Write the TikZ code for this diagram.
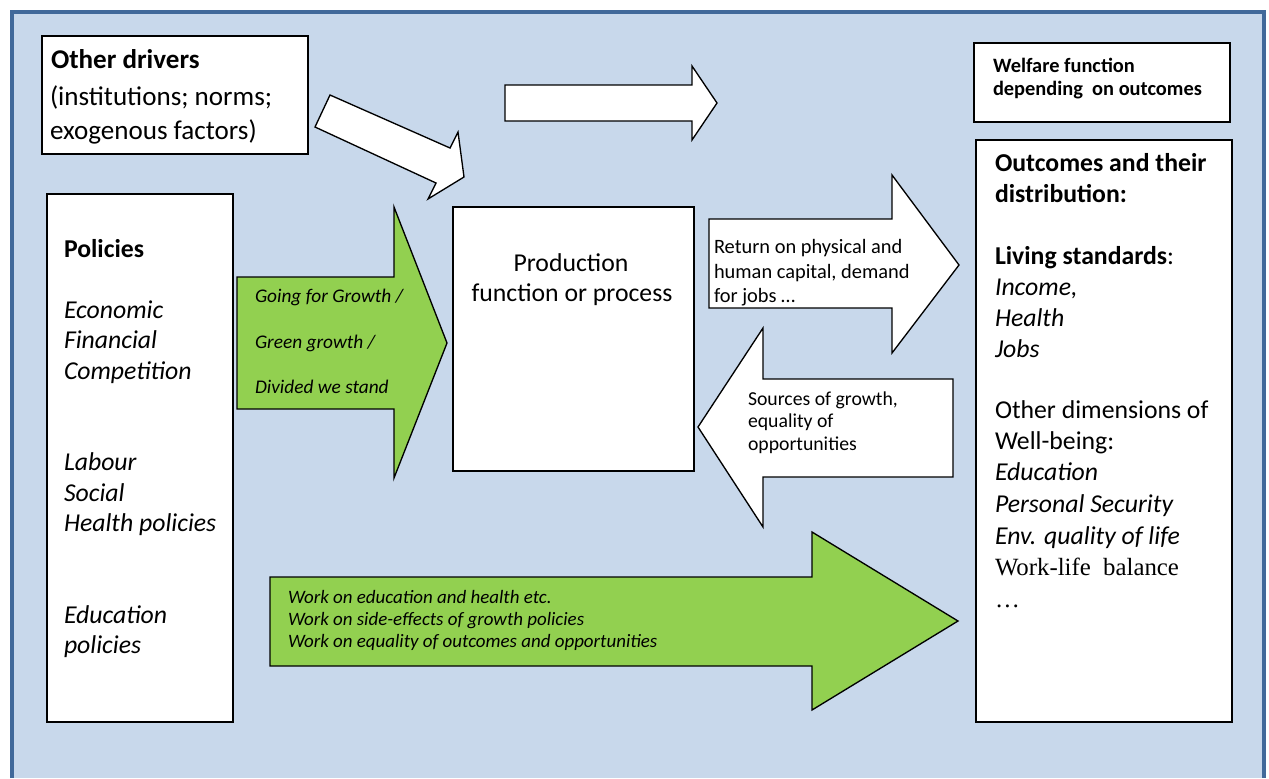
\documentclass[tikz,border=0pt]{standalone}
\usepackage{fontspec}
\setmainfont{Carlito}
\newfontfamily\tnrfont{Liberation Serif}
\definecolor{bgblue}{HTML}{C8D8EB}
\definecolor{frameblue}{HTML}{41699A}
\definecolor{arrgreen}{HTML}{92D050}
\begin{document}
\begin{tikzpicture}[x=0.75pt,y=-0.75pt,
  box/.style={draw=black,fill=white,line width=1pt},
  blockarrow/.style={draw=black,line width=1pt,line join=miter},
  ln/.style={anchor=base west,inner sep=0pt,outer sep=0pt},
  ctr/.style={anchor=base,inner sep=0pt,outer sep=0pt},
  fdrv/.style={font=\fontsize{20.3}{24}\selectfont},
  fdrvb/.style={font=\fontsize{20.3}{24}\selectfont\bfseries},
  fbig/.style={font=\fontsize{19.3}{23}\selectfont},
  fbigb/.style={font=\fontsize{19.3}{23}\selectfont\bfseries},
  fbigi/.style={font=\fontsize{19.3}{23}\selectfont\itshape},
  fwel/.style={font=\fontsize{15.3}{18}\selectfont\bfseries},
  fret/.style={font=\fontsize{15.3}{18}\selectfont},
  fsrc/.style={font=\fontsize{14.8}{18}\selectfont},
  fgrn/.style={font=\fontsize{14.5}{17}\selectfont\itshape},
  fwork/.style={font=\fontsize{14.2}{17}\selectfont\itshape}]
\useasboundingbox (0,0) rectangle (1269,778);
% background panel
\fill[bgblue] (11.5,12) rectangle (1263.5,778);
\draw[frameblue,line width=3pt] (11.5,778) -- (11.5,12) -- (1263.5,12) -- (1263.5,778);

% boxes
\draw[box] (42,36) rectangle (308,154);
\draw[box] (974,43) rectangle (1230,122);
\draw[box] (976,140) rectangle (1232,722);
\draw[box] (47,194) rectangle (233,722);
\draw[box] (453,207) rectangle (694,471);

% block arrows
\draw[blockarrow,fill=white] (505,85) -- (692,85) -- (692,66) -- (717,103) -- (692,140) -- (692,121) -- (505,121) -- cycle;
\draw[blockarrow,fill=white] (330,95) -- (450,148) -- (458,132) -- (464,177) -- (428,199) -- (436,183) -- (315,127) -- cycle;
\draw[blockarrow,fill=arrgreen] (237,277) -- (394,277) -- (394,207) -- (447,343) -- (394,478) -- (394,409) -- (237,409) -- cycle;
\draw[blockarrow,fill=arrgreen] (270,577) -- (812,577) -- (812,532) -- (958,621) -- (812,710) -- (812,666) -- (270,666) -- cycle;
\draw[blockarrow,fill=white] (709,219) -- (892,219) -- (892,175) -- (959,265) -- (892,353) -- (892,308) -- (709,308) -- cycle;
\draw[blockarrow,fill=white] (953,379) -- (763,379) -- (763,328) -- (698,427) -- (763,527) -- (763,477) -- (953,477) -- cycle;

% Other drivers
\node[ln,fdrvb] (od1) at (51,68) {Other drivers};
\node[ln,fdrv] (od2) at (50,105) {(institutions; norms;};
\node[ln,fdrv] (od3) at (50,139) {exogenous factors)};

% Welfare
\node[ln,fwel] (wf1) at (993,72) {Welfare function};
\node[ln,fwel] (wf2) at (993,95) {depending\ \ on outcomes};

% Outcomes
\node[ln,fbigb] (oc1) at (995,171) {Outcomes and their};
\node[ln,fbigb] (oc2) at (995,202) {distribution:};
\node[ln,fbig] (oc3) at (995,264) {{\bfseries Living standards}:};
\node[ln,fbigi] (oc4) at (995,295) {Income,};
\node[ln,fbigi] (oc5) at (995,326) {Health};
\node[ln,fbigi] (oc6) at (995,357) {Jobs};
\node[ln,fbig] (oc7) at (995,418) {Other dimensions of};
\node[ln,fbig] (oc8) at (995,449) {Well-being:};
\node[ln,fbigi] (oc9) at (995,480) {Education};
\node[ln,fbigi] (oc10) at (995,512) {Personal Security};
\node[ln,fbigi] (oc11) at (995,544) {Env. quality of life};
\node[ln,font=\fontsize{18.6}{22}\tnrfont] (oc12) at (995,575) {Work-life\ \ balance};
\node[ln,font=\fontsize{18.6}{22}\tnrfont] (oc13) at (995,607) {\dots};

% Policies
\node[ln,fbigb] (po1) at (64,257) {Policies};
\node[ln,fbigi] (po2) at (64,318) {Economic};
\node[ln,fbigi] (po3) at (64,348.5) {Financial};
\node[ln,fbigi] (po4) at (64,379) {Competition};
\node[ln,fbigi] (po5) at (64,470.5) {Labour};
\node[ln,fbigi] (po6) at (64,501) {Social};
\node[ln,fbigi] (po7) at (64,531.5) {Health policies};
\node[ln,fbigi] (po8) at (64,623) {Education};
\node[ln,fbigi] (po9) at (64,653.5) {policies};

% Production
\node[ctr,fbig] (pr1) at (571,271.5) {Production};
\node[ctr,fbig] (pr2) at (572,301.5) {function or process};

% Return arrow text
\node[ln,fret] (rt1) at (714,253) {Return on physical and};
\node[ln,fret] (rt2) at (714,278) {human capital, demand};
\node[ln,fret] (rt3) at (714,302) {for jobs \dots};

% Sources arrow text
\node[ln,fsrc] (so1) at (748,405) {Sources of growth,};
\node[ln,fsrc] (so2) at (748,427.5) {equality of};
\node[ln,fsrc] (so3) at (748,450) {opportunities};

% Green arrow 1 text
\node[ln,fgrn] (gg1) at (255,302) {Going for Growth /};
\node[ln,fgrn] (gg2) at (255,348) {Green growth /};
\node[ln,fgrn] (gg3) at (255,393) {Divided we stand};

% Green arrow 2 text
\node[ln,fwork] (wk1) at (288,603) {Work on education and health etc.};
\node[ln,fwork] (wk2) at (288,625) {Work on side-effects of growth policies};
\node[ln,fwork] (wk3) at (288,647) {Work on equality of outcomes and opportunities};
\end{tikzpicture}
\end{document}
